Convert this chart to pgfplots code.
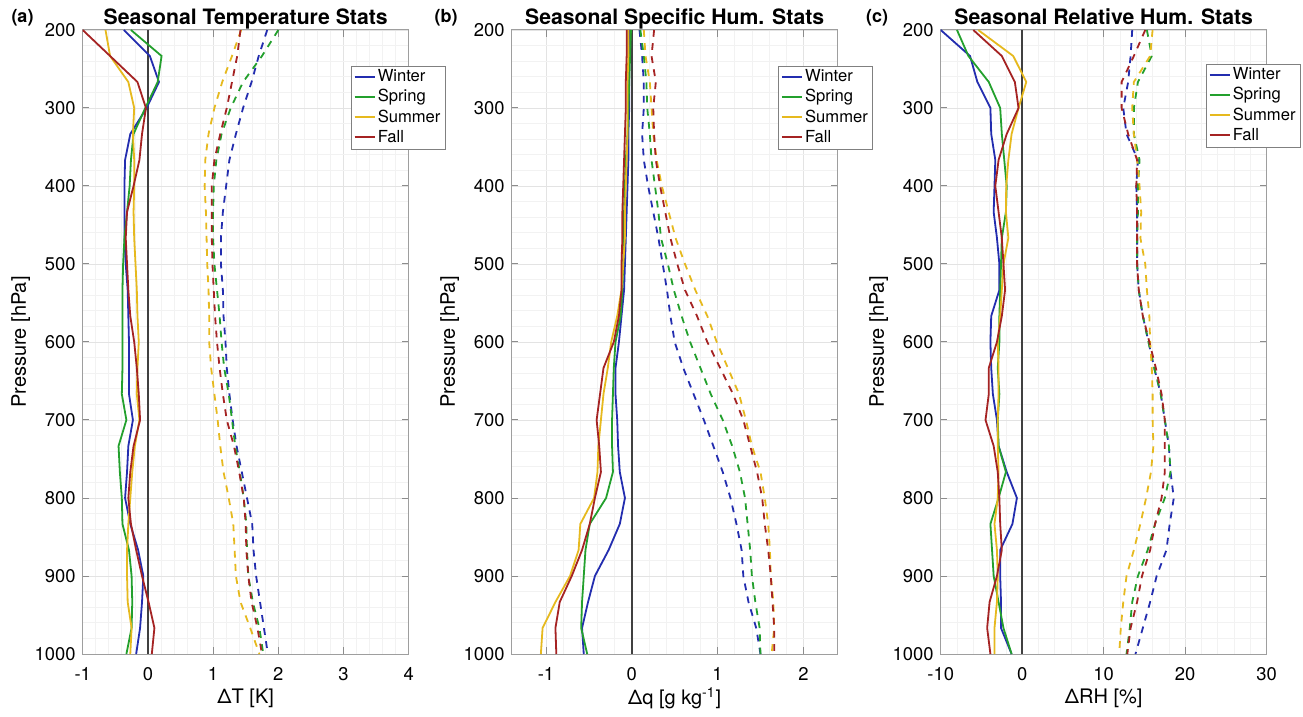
\documentclass[border=0pt]{standalone}
\usepackage{pgfplots}
\pgfplotsset{compat=1.18}
\usepackage{pgfplotstable}
\usepackage{fontspec}
\setmainfont{TeX Gyre Heros}

\definecolor{cw}{RGB}{35,45,175}
\definecolor{csp}{RGB}{35,160,45}
\definecolor{csu}{RGB}{230,185,30}
\definecolor{cf}{RGB}{165,35,35}

\pgfplotstableread{
p ws ss us fs wd sd ud fd
200 -0.37 -0.26 -0.65 -1.00 1.83 2.00 1.43 1.42
233.33 0.03 0.21 -0.58 -0.58 1.70 1.75 1.29 1.37
266.67 0.17 0.15 -0.30 -0.16 1.59 1.46 1.14 1.29
300 -0.02 -0.04 -0.21 -0.03 1.46 1.27 1.02 1.21
333.33 -0.27 -0.22 -0.23 -0.09 1.35 1.13 0.93 1.11
366.67 -0.35 -0.26 -0.21 -0.13 1.25 1.05 0.88 1.02
400 -0.36 -0.28 -0.21 -0.22 1.20 1.01 0.87 0.98
433.33 -0.36 -0.32 -0.22 -0.32 1.15 1.00 0.89 0.98
466.67 -0.36 -0.36 -0.21 -0.34 1.12 1.00 0.90 0.98
500 -0.34 -0.38 -0.19 -0.32 1.12 1.02 0.91 0.99
533.33 -0.31 -0.39 -0.17 -0.30 1.15 1.06 0.93 1.01
566.67 -0.30 -0.39 -0.16 -0.27 1.16 1.10 0.94 1.03
600 -0.29 -0.39 -0.14 -0.21 1.19 1.13 0.94 1.06
633.33 -0.29 -0.39 -0.16 -0.17 1.21 1.17 0.97 1.10
666.67 -0.29 -0.40 -0.17 -0.14 1.25 1.24 1.02 1.15
700 -0.23 -0.33 -0.13 -0.12 1.30 1.29 1.07 1.21
733.33 -0.30 -0.45 -0.20 -0.22 1.36 1.34 1.11 1.32
766.67 -0.32 -0.43 -0.24 -0.27 1.44 1.41 1.16 1.40
800 -0.35 -0.40 -0.27 -0.30 1.52 1.47 1.24 1.47
833.33 -0.27 -0.39 -0.30 -0.26 1.60 1.51 1.31 1.50
866.67 -0.15 -0.29 -0.32 -0.18 1.62 1.52 1.33 1.51
900 -0.07 -0.25 -0.32 -0.09 1.66 1.54 1.35 1.54
933.33 -0.09 -0.24 -0.31 0.01 1.72 1.61 1.42 1.59
966.67 -0.12 -0.25 -0.25 0.10 1.78 1.71 1.57 1.68
1000 -0.18 -0.33 -0.27 0.06 1.84 1.77 1.71 1.75
}\tabA

\pgfplotstableread{
p ws ss us fs wd sd ud fd
200 -0.03 -0.01 -0.04 -0.06 0.09 0.10 0.14 0.26
233.33 -0.03 -0.02 -0.04 -0.06 0.12 0.14 0.16 0.23
266.67 -0.03 -0.03 -0.05 -0.07 0.14 0.17 0.21 0.28
300 -0.03 -0.04 -0.05 -0.07 0.14 0.18 0.23 0.25
333.33 -0.04 -0.05 -0.05 -0.08 0.12 0.21 0.25 0.26
366.67 -0.04 -0.07 -0.06 -0.09 0.14 0.23 0.29 0.28
400 -0.05 -0.08 -0.07 -0.10 0.19 0.27 0.35 0.33
433.33 -0.06 -0.09 -0.08 -0.11 0.25 0.31 0.43 0.39
466.67 -0.07 -0.09 -0.08 -0.11 0.31 0.34 0.51 0.45
500 -0.08 -0.10 -0.10 -0.12 0.36 0.42 0.62 0.53
533.33 -0.09 -0.11 -0.12 -0.12 0.41 0.49 0.74 0.62
566.67 -0.12 -0.13 -0.17 -0.15 0.45 0.58 0.88 0.76
600 -0.15 -0.19 -0.24 -0.21 0.50 0.68 0.99 0.88
633.33 -0.19 -0.21 -0.28 -0.33 0.60 0.80 1.12 1.03
666.67 -0.19 -0.22 -0.33 -0.37 0.72 0.92 1.25 1.18
700 -0.17 -0.23 -0.36 -0.41 0.84 1.06 1.33 1.30
733.33 -0.16 -0.23 -0.39 -0.38 0.95 1.17 1.40 1.38
766.67 -0.14 -0.22 -0.40 -0.36 1.06 1.26 1.50 1.46
800 -0.08 -0.30 -0.44 -0.43 1.15 1.32 1.55 1.52
833.33 -0.14 -0.49 -0.60 -0.49 1.22 1.35 1.59 1.55
866.67 -0.27 -0.54 -0.62 -0.58 1.28 1.38 1.61 1.59
900 -0.43 -0.56 -0.72 -0.70 1.30 1.40 1.62 1.62
933.33 -0.51 -0.58 -0.89 -0.84 1.36 1.44 1.65 1.64
966.67 -0.58 -0.59 -1.04 -0.89 1.45 1.49 1.66 1.66
1000 -0.56 -0.52 -1.06 -0.88 1.50 1.50 1.63 1.66
}\tabB

\pgfplotstableread{
p ws ss us fs wd sd ud fd
200 -10.0 -8.0 -5.4 -6.0 13.5 15.3 16.0 15.1
233.33 -6.4 -6.6 -1.1 -2.5 13.3 15.9 15.7 13.7
266.67 -5.5 -4.1 0.5 -0.9 13.0 14.2 13.7 12.2
300 -3.9 -2.7 -0.45 -0.45 12.4 13.7 13.5 12.2
333.33 -3.8 -2.5 -1.3 -1.9 12.8 13.7 13.7 13.0
366.67 -3.3 -2.2 -1.7 -2.9 14.2 14.4 14.1 14.1
400 -3.4 -1.9 -1.96 -3.3 14.0 14.2 14.4 14.0
433.33 -3.5 -2.0 -2.0 -2.9 14.1 14.2 14.6 14.1
466.67 -3.1 -2.5 -1.7 -2.5 14.1 14.1 14.5 14.1
500 -2.8 -2.6 -2.3 -2.3 14.1 14.1 15.1 14.1
533.33 -2.8 -2.7 -2.5 -2.1 14.3 14.3 15.3 14.3
566.67 -3.8 -2.8 -2.7 -2.5 14.8 14.8 15.6 14.8
600 -3.9 -2.8 -3.0 -3.1 15.5 15.5 15.7 15.6
633.33 -3.8 -3.0 -2.9 -4.1 16.2 16.2 15.9 16.4
666.67 -3.6 -2.8 -2.9 -4.1 17.0 17.0 16.0 17.1
700 -3.1 -3.0 -3.0 -4.5 17.5 17.5 16.0 17.5
733.33 -2.9 -2.9 -3.0 -3.5 18.0 18.0 16.1 17.5
766.67 -1.9 -2.0 -2.9 -3.0 18.2 18.2 15.8 17.5
800 -0.65 -2.9 -3.0 -2.8 18.6 17.5 15.2 17.1
833.33 -1.2 -3.9 -3.4 -2.7 18.1 16.3 14.5 16.3
866.67 -2.7 -3.7 -3.1 -2.5 17.7 15.4 13.7 15.7
900 -2.7 -3.5 -3.0 -3.1 16.5 14.2 12.8 14.7
933.33 -2.6 -2.9 -3.1 -4.0 15.7 13.5 12.4 14.1
966.67 -2.6 -2.3 -3.4 -4.3 14.8 13.2 12.1 13.3
1000 -1.3 -1.3 -3.4 -3.9 13.9 12.8 11.9 12.9
}\tabC

\pgfplotsset{
  panel/.style={
    width=163pt, height=312pt, scale only axis,
    anchor=south west,
    y dir=reverse, ymin=200, ymax=1000, ytick={200,300,...,1000},
    minor x tick num=4, minor y tick num=4,
    grid=both,
    major grid style={black!11, line width=0.4pt},
    minor grid style={black!5, line width=0.35pt},
    axis line style={black!38, line width=0.5pt},
    tick style={black!45, line width=0.5pt},
    major tick length=3.3pt, minor tick length=0pt,
    tick align=inside,
    ticklabel style={font=\fontsize{9.2}{11}\selectfont},
    xticklabel style={yshift=-3pt},
    /pgf/number format/assume math mode=true,
    /pgf/number format/1000 sep={},
    ylabel={Pressure [hPa]},
    label style={font=\fontsize{10.6}{12}\selectfont},
    every axis y label/.style={at={(axis description cs:-0.19,0.5)}, rotate=90, anchor=center},
    every axis x label/.style={at={(axis description cs:0.5,-0.0705)}, anchor=center},
    every axis title/.style={font=\bfseries\fontsize{10.6}{12}\selectfont, at={(axis description cs:0.5,1)}, anchor=base, yshift=2.8pt},
    legend cell align=left,
    legend image code/.code={\draw[##1, line width=1pt, line cap=butt] (0pt,0.3pt) -- (10pt,0.3pt);},
    legend style={anchor=north west, draw=black!50, fill=white, line width=0.5pt,
      font=\fontsize{8.3}{10}\selectfont, inner xsep=1.2pt, inner ysep=0.6pt, row sep=0pt,
      nodes={inner sep=1.1pt, text height=6.1pt, text depth=1.8pt}},
  },
  sol/.style={line width=0.9pt, solid},
  das/.style={line width=0.9pt, dash pattern=on 3.4pt off 3.2pt, forget plot},
  zer/.style={black!75, line width=1pt, forget plot},
}

\begin{document}
\begin{tikzpicture}
\useasboundingbox (0,0) rectangle (651.5pt,358.5pt);

% ---------- (a) ----------
\begin{axis}[panel, at={(41.35pt,31.5pt)},
  xmin=-1, xmax=4, xtick={-1,0,...,4},
  xlabel={ΔT [K]}, title={Seasonal Temperature Stats},
  legend style={at={(0.822,0.943)}}]
\addplot[zer] coordinates {(0,200) (0,1000)};
\addplot[sol, cw]  table[x=ws, y=p] {\tabA}; \addlegendentry{Winter}
\addplot[sol, csp] table[x=ss, y=p] {\tabA}; \addlegendentry{Spring}
\addplot[sol, csu] table[x=us, y=p] {\tabA}; \addlegendentry{Summer}
\addplot[sol, cf]  table[x=fs, y=p] {\tabA}; \addlegendentry{Fall}
\addplot[das, cw]  table[x=wd, y=p] {\tabA};
\addplot[das, csp] table[x=sd, y=p] {\tabA};
\addplot[das, csu] table[x=ud, y=p] {\tabA};
\addplot[das, cf]  table[x=fd, y=p] {\tabA};
\end{axis}

% ---------- (b) ----------
\begin{axis}[panel, at={(255.85pt,31.5pt)},
  xmin=-1.4, xmax=2.4, xtick={-1,0,1,2},
  xlabel={Δq [g kg\textsuperscript{-1}]}, title={Seasonal Specific Hum. Stats},
  legend style={at={(0.817,0.943)}}]
\addplot[zer] coordinates {(0,200) (0,1000)};
\addplot[sol, cw]  table[x=ws, y=p] {\tabB}; \addlegendentry{Winter}
\addplot[sol, csp] table[x=ss, y=p] {\tabB}; \addlegendentry{Spring}
\addplot[sol, csu] table[x=us, y=p] {\tabB}; \addlegendentry{Summer}
\addplot[sol, cf]  table[x=fs, y=p] {\tabB}; \addlegendentry{Fall}
\addplot[das, cw]  table[x=wd, y=p] {\tabB};
\addplot[das, csp] table[x=sd, y=p] {\tabB};
\addplot[das, csu] table[x=ud, y=p] {\tabB};
\addplot[das, cf]  table[x=fd, y=p] {\tabB};
\end{axis}

% ---------- (c) ----------
\begin{axis}[panel, at={(470.35pt,31.5pt)},
  xmin=-10, xmax=30, xtick={-10,0,...,30},
  xlabel={ΔRH [\%]}, title={Seasonal Relative Hum. Stats},
  legend style={at={(0.813,0.946)}}]
\addplot[zer] coordinates {(0,200) (0,1000)};
\addplot[sol, cw]  table[x=ws, y=p] {\tabC}; \addlegendentry{Winter}
\addplot[sol, csp] table[x=ss, y=p] {\tabC}; \addlegendentry{Spring}
\addplot[sol, csu] table[x=us, y=p] {\tabC}; \addlegendentry{Summer}
\addplot[sol, cf]  table[x=fs, y=p] {\tabC}; \addlegendentry{Fall}
\addplot[das, cw]  table[x=wd, y=p] {\tabC};
\addplot[das, csp] table[x=sd, y=p] {\tabC};
\addplot[das, csu] table[x=ud, y=p] {\tabC};
\addplot[das, cf]  table[x=fd, y=p] {\tabC};
\end{axis}

\node[font=\bfseries\fontsize{9}{10}\selectfont] at (11.25pt,349.5pt) {(a)};
\node[font=\bfseries\fontsize{9}{10}\selectfont] at (223pt,349.5pt) {(b)};
\node[font=\bfseries\fontsize{9}{10}\selectfont] at (438.5pt,349.5pt) {(c)};
\end{tikzpicture}
\end{document}
